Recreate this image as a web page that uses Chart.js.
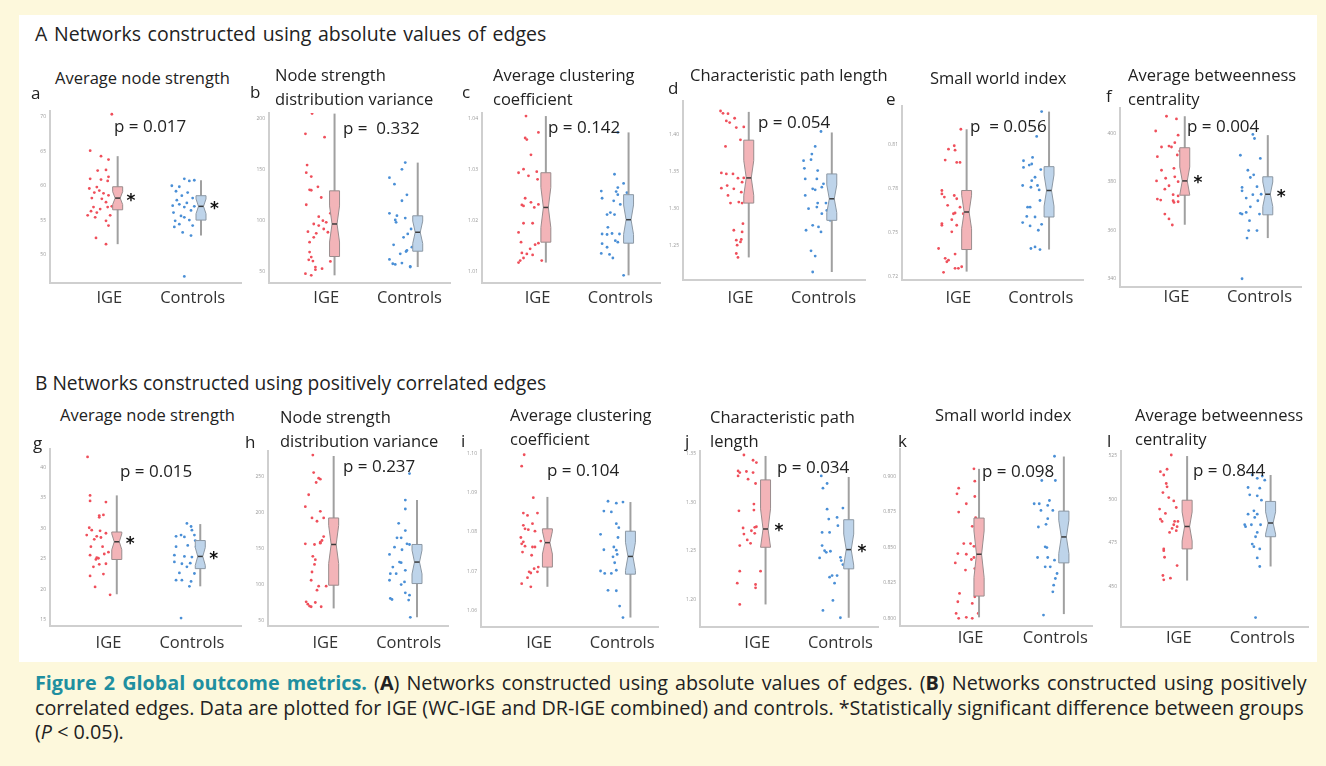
<!DOCTYPE html>
<html>
<head>
<meta charset="utf-8">
<script src="https://cdn.jsdelivr.net/npm/chart.js@4.4.1/dist/chart.umd.min.js"></script>
<style>
  body { margin:0; width:1326px; height:766px; background:#fdf8dc; position:relative; overflow:hidden;
         font-family:'Open Sans', sans-serif; color:#222; }
  #sheet { position:absolute; left:19px; top:15px; width:1298px; height:647px; background:#fff; }
  .t { position:absolute; white-space:nowrap; line-height:24px; }
  canvas { position:absolute; }
  #caption { position:absolute; left:35px; top:671px; font-size:19.75px; line-height:24.5px; white-space:nowrap; color:#222; }
  #caption .l1 { word-spacing:2px; }
  #caption .lead { color:#1f8fa0; font-weight:bold; }
</style>
</head>
<body>
<div id="sheet"></div>
<div id="caption"><span class="l1"><span class="lead">Figure 2 Global outcome metrics.</span> (<b>A</b>) Networks constructed using absolute values of edges. (<b>B</b>) Networks constructed using positively</span><br>correlated edges. Data are plotted for IGE (WC-IGE and DR-IGE combined) and controls. *Statistically significant difference between groups<br>(<i>P</i> &lt; 0.05).</div>
<script>
// ---- labels ----
const groups = ["IGE", "Controls"];
const rowHeadings = ["A Networks constructed using absolute values of edges",
                     "B Networks constructed using positively correlated edges"];
const panelIds = ["a", "b", "c", "d", "e", "f", "g", "h", "i", "j", "k", "l"];
const titles = ["Average node strength", "Node strength\ndistribution variance", "Average clustering\ncoefficient",
                "Characteristic path length", "Small world index", "Average betweenness\ncentrality",
                "Average node strength", "Node strength\ndistribution variance", "Average clustering\ncoefficient",
                "Characteristic path\nlength", "Small world index", "Average betweenness\ncentrality"];
const pValues = ["p = 0.017", "p =  0.332", "p = 0.142", "p = 0.054", "p  = 0.056", "p = 0.004",
                 "p = 0.015", "p = 0.237", "p = 0.104", "p = 0.034", "p = 0.098", "p = 0.844"];
const starred = ["a", "f", "g", "j"];

// ---- values (jitter offsets J from the group position, Y values, box = [low, q1, median, q3, high]) ----
const aTicks = [50, 55, 60, 65, 70];
const aIgeY = [70.4,65.1,64.3,63.8,62.2,62.3,61.3,61.0,60.9,60.7,59.6,59.8,59.3,59.0,58.9,58.6,58.2,58.1,57.6,56.9,56.6,56.3,56.1,56.9,57.0,55.7,55.4,55.7,54.9,54.2,52.4,51.5];
const aIgeJ = [0.03,-0.23,-0.10,-0.01,-0.14,-0.04,-0.01,-0.23,-0.10,-0.02,-0.24,-0.15,-0.12,-0.18,-0.07,-0.01,-0.21,-0.09,-0.04,-0.19,-0.11,-0.22,-0.15,-0.02,0.03,-0.26,-0.17,0.01,-0.04,-0.01,-0.16,-0.04];
const aCtlY = [61.0,60.8,60.0,59.85,59.2,59.0,58.55,57.1,57.3,58.2,57.0,56.9,56.4,56.1,55.4,55.0,54.4,54.0,54.2,53.2,52.75,46.8,57.9,57.5,55.6,54.9,60.7];
const aCtlJ = [-0.10,0.02,-0.25,-0.16,-0.20,-0.06,-0.13,-0.24,-0.16,0.00,0.02,-0.10,-0.02,-0.23,-0.10,-0.04,-0.16,-0.22,0.00,-0.12,-0.02,-0.10,-0.19,-0.07,-0.14,-0.21,-0.04];
const aIgeBox = [51.5, 56.5, 58.2, 59.85, 64.3];
const aCtlBox = [52.75, 55.0, 57.0, 58.55, 60.8];

const bTicks = [50, 100, 150, 200];
const bIgeY = [204.9,185.1,181.9,154.6,147.2,143.3,130.4,130.0,133.3,115.8,122.9,107.4,104.1,100.2,98.6,97.0,95.4,92.1,89.5,88.9,87.9,84.0,79.2,69.5,64.6,62.0,60.7,60.4,53.3,52.3,54.9,48.4,46.8];
const bIgeJ = [-0.17,-0.25,-0.02,-0.23,-0.24,-0.18,-0.20,-0.18,-0.10,-0.24,-0.06,0.05,-0.09,-0.04,0.00,-0.15,-0.09,-0.03,-0.22,0.02,-0.12,-0.15,-0.20,-0.20,-0.18,-0.21,-0.16,0.05,-0.05,-0.13,-0.13,-0.25,-0.18];
const bCtlY = [157.0,150.4,142.3,135.9,125.5,119.7,107.4,105.1,102.8,100.9,98.6,92.1,87.3,84.0,76.6,74.3,67.8,71.1,70.1,62.3,58.1,57.5,58.8,55.5,54.9];
const bCtlJ = [-0.05,-0.09,-0.24,-0.18,-0.03,-0.09,-0.24,-0.15,-0.05,-0.17,-0.16,0.02,-0.02,-0.07,-0.19,0.03,-0.11,-0.03,-0.04,-0.24,-0.20,-0.17,-0.09,0.01,0.01];
const bIgeBox = [46.8, 65.2, 97.0, 129.4, 204.9];
const bCtlBox = [54.9, 70.4, 88.9, 105.0, 157.0];

const cTicks = [1.01, 1.02, 1.03, 1.04];
const cIgeY = [1.0405,1.0373,1.0362,1.0359,1.0329,1.0294,1.0301,1.0296,1.0288,1.0281,1.0244,1.0231,1.0229,1.0236,1.0226,1.0232,1.0195,1.0195,1.0177,1.0158,1.0153,1.0156,1.0145,1.0137,1.0135,1.0133,1.0127,1.0122,1.0118,1.0122];
const cIgeJ = [-0.14,0.01,-0.15,-0.13,-0.08,-0.23,-0.17,-0.01,-0.11,0.00,-0.15,-0.19,-0.17,-0.08,-0.04,0.01,-0.17,-0.06,-0.23,-0.20,-0.03,0.01,-0.09,-0.19,-0.13,-0.06,-0.17,-0.21,-0.23,0.05];
const cCtlY = [1.0373,1.0291,1.0273,1.0265,1.0257,1.0258,1.0255,1.0244,1.0251,1.0239,1.0232,1.0216,1.0212,1.0212,1.0187,1.0174,1.0174,1.0175,1.0173,1.0161,1.0155,1.0148,1.0158,1.0136,1.0134,1.0127,1.0093];
const cCtlJ = [-0.03,-0.07,0.04,-0.03,-0.05,-0.23,0.08,-0.22,-0.03,-0.08,0.00,-0.12,-0.16,-0.07,-0.15,-0.22,-0.01,-0.10,-0.16,-0.06,-0.22,-0.16,-0.03,-0.23,-0.13,-0.09,0.04];
const cIgeBox = [1.0118, 1.0158, 1.0226, 1.0294, 1.0405];
const cCtlBox = [1.0093, 1.0156, 1.0202, 1.0251, 1.0373];

const dTicks = [1.25, 1.30, 1.35, 1.40];
const dIgeY = [1.4322,1.4291,1.4286,1.4188,1.4166,1.4224,1.4098,1.4107,1.3933,1.3843,1.3485,1.3472,1.3472,1.3414,1.3418,1.3360,1.3279,1.3315,1.3270,1.3181,1.3226,1.3078,1.3091,1.3078,1.2800,1.2711,1.2688,1.2577,1.2586,1.2554,1.2509,1.2397,1.2344];
const dIgeJ = [-0.24,-0.21,-0.15,-0.17,-0.13,-0.07,-0.05,0.04,0.00,-0.18,-0.23,-0.17,-0.09,-0.03,0.04,0.02,-0.23,-0.16,-0.08,-0.15,0.01,-0.12,-0.02,0.02,0.03,-0.08,0.02,-0.05,0.01,0.00,-0.04,-0.05,-0.03];
const dCtlY = [1.4045,1.3843,1.3740,1.3651,1.3664,1.3548,1.3517,1.3405,1.3405,1.3270,1.3257,1.3338,1.3293,1.3181,1.3078,1.3078,1.3024,1.2979,1.3002,1.2935,1.2845,1.2778,1.2711,1.2688,1.2756,1.2433,1.2362,1.2147];
const dCtlJ = [-0.03,-0.10,-0.14,-0.24,-0.15,-0.23,-0.07,-0.22,-0.08,-0.13,-0.10,0.00,-0.02,-0.22,-0.07,0.03,-0.08,0.04,-0.18,-0.02,0.08,-0.13,-0.21,-0.03,-0.06,-0.15,-0.10,-0.13];
const dIgeBox = [1.2344, 1.3078, 1.3418, 1.3928, 1.4310];
const dCtlBox = [1.2147, 1.2845, 1.3136, 1.3472, 1.4032];

const eTicks = [0.72, 0.75, 0.78, 0.81];
const eIgeY = [0.8201,0.8066,0.8089,0.8059,0.7992,0.7976,0.7976,0.7785,0.7762,0.7740,0.7751,0.7684,0.7729,0.7672,0.7627,0.7632,0.7627,0.7587,0.7560,0.7549,0.7549,0.7504,0.7391,0.7324,0.7312,0.7353,0.7301,0.7256,0.7256,0.7267,0.7229];
const eIgeJ = [0.03,-0.12,-0.05,-0.04,-0.16,-0.02,0.02,-0.20,-0.20,-0.17,-0.05,-0.13,-0.02,0.02,-0.06,-0.04,0.06,-0.08,-0.20,-0.20,-0.02,-0.08,-0.24,-0.16,-0.12,-0.04,-0.14,-0.04,0.00,0.04,-0.18];
const eCtlY = [0.8321,0.8152,0.7987,0.7958,0.7965,0.8010,0.7942,0.7927,0.7875,0.7819,0.7819,0.7807,0.7852,0.7789,0.7672,0.7672,0.7717,0.7609,0.7605,0.7567,0.7544,0.7555,0.7515,0.7402,0.7391,0.7384];
const eCtlJ = [0.01,-0.05,-0.21,-0.14,-0.11,-0.10,-0.21,0.00,-0.07,-0.22,-0.04,-0.12,-0.11,-0.02,-0.16,-0.13,-0.01,-0.17,-0.07,-0.22,-0.13,0.01,-0.03,-0.07,-0.12,-0.01];
const eIgeBox = [0.7234, 0.7384, 0.7639, 0.7785, 0.8201];
const eCtlBox = [0.7384, 0.7605, 0.7785, 0.7947, 0.8321];

const fTicks = [340, 360, 380, 400];
const fIgeY = [407.1,406.0,401.0,399.3,396.2,394.8,394.4,394.4,392.7,390.4,391.1,384.8,385.6,380.4,381.5,382.1,380.1,377.0,378.4,374.7,372.9,372.5,374.2,372.2,371.5,371.8,366.7,364.7,362.2];
const fIgeJ = [-0.12,0.00,-0.25,0.02,-0.02,-0.09,-0.06,-0.18,0.04,-0.23,0.01,-0.18,-0.03,-0.24,-0.13,-0.02,0.02,-0.14,-0.09,-0.04,-0.23,-0.19,0.02,-0.04,-0.03,0.02,-0.14,-0.09,-0.05];
const fCtlY = [399.6,397.9,391.0,389.7,384.8,382.9,381.8,377.7,376.3,378.0,374.7,374.9,373.3,372.2,369.7,366.7,367.0,367.4,366.7,364.0,359.9,359.9,356.8,340.0];
const fCtlJ = [-0.08,-0.06,-0.23,0.01,-0.14,-0.07,-0.11,-0.21,-0.21,-0.03,-0.08,0.02,-0.16,-0.02,-0.11,-0.21,-0.23,-0.16,0.00,-0.12,-0.13,-0.03,-0.15,-0.21];
const fIgeBox = [362.3, 374.5, 380.4, 394.1, 407.1];
const fCtlBox = [356.8, 366.4, 374.9, 382.1, 399.3];

const gTicks = [15, 20, 25, 30, 35, 40];
const gIgeY = [41.7,35.4,34.5,34.3,32.1,32.2,31.8,30.1,29.7,29.6,29.2,28.7,28.9,28.5,28.2,27.0,27.0,26.1,25.6,25.2,25.1,24.9,25.8,24.1,23.7,24.2,22.2,22.5,20.4,19.1];
const gIgeJ = [-0.25,-0.22,-0.22,-0.03,-0.11,-0.06,-0.11,-0.23,-0.20,-0.10,-0.03,-0.14,-0.26,-0.09,-0.17,-0.21,-0.07,0.00,-0.22,-0.14,-0.12,-0.15,-0.05,-0.11,-0.18,-0.03,-0.22,-0.06,-0.16,0.02];
const gCtlY = [30.8,30.3,28.7,28.9,28.6,29.7,28.9,28.0,27.0,27.2,27.0,25.6,25.4,25.3,24.5,24.2,23.7,24.3,21.5,21.5,21.3,20.5,22.7,22.6,15.3];
const gCtlJ = [-0.06,-0.01,-0.19,-0.13,-0.09,0.00,0.03,0.04,0.05,-0.05,-0.19,-0.21,-0.09,0.00,-0.21,-0.12,-0.06,-0.02,-0.19,-0.12,-0.01,-0.03,-0.15,0.03,-0.13];
const gIgeBox = [19.2, 24.9, 27.8, 29.4, 35.4];
const gCtlBox = [20.5, 23.4, 25.4, 28.0, 30.7];

const hTicks = [50, 100, 150, 200, 250];
const hIgeY = [280.3,256.0,248.2,242.2,246.8,225.2,208.6,202.2,193.0,188.4,193.0,167.2,161.7,158.0,157.1,156.2,159.4,139.7,135.1,128.6,118.0,106.6,98.3,98.3,92.8,76.7,73.4,70.7,69.8,75.7,69.8];
const hIgeJ = [-0.15,-0.14,-0.08,-0.11,-0.06,-0.20,-0.24,-0.06,-0.16,-0.10,-0.02,-0.02,-0.04,-0.06,-0.24,-0.13,-0.06,-0.15,-0.12,-0.13,-0.16,-0.17,-0.08,0.01,-0.10,-0.23,-0.21,-0.19,-0.17,-0.12,-0.05];
const hCtlY = [254.6,217.8,205.4,185.6,175.5,165.4,165.4,157.1,156.2,152.5,148.9,142.4,131.8,130.9,124.9,115.7,120.3,115.7,106.6,104.3,100.6,81.3,79.9,89.1,79.0,85.9,55.1];
const hCtlJ = [0.01,-0.04,-0.04,-0.12,-0.04,-0.09,-0.14,-0.02,0.01,-0.17,-0.08,-0.23,-0.11,-0.09,-0.19,-0.22,-0.04,-0.15,-0.23,-0.05,-0.09,-0.22,-0.20,-0.04,0.00,0.01,0.02];
const hIgeBox = [67.5, 99.7, 156.2, 193.0, 279.0];
const hCtlBox = [55.1, 102.0, 131.8, 156.2, 217.8];

const iTicks = [1.06, 1.07, 1.08, 1.09, 1.10];
const iIgeY = [1.0996,1.0967,1.0887,1.0848,1.0842,1.0848,1.0817,1.0808,1.0821,1.0806,1.0802,1.0786,1.0775,1.0770,1.0762,1.0762,1.0777,1.0764,1.0749,1.0741,1.0707,1.0711,1.0699,1.0696,1.0684,1.0699,1.0669,1.0661];
const iIgeJ = [-0.18,-0.21,-0.07,-0.19,-0.14,-0.02,-0.19,-0.17,-0.08,-0.13,-0.05,-0.22,-0.19,-0.21,-0.08,-0.05,0.02,-0.17,-0.20,-0.09,-0.06,-0.01,-0.12,-0.10,-0.14,-0.02,-0.21,-0.10];
const iCtlY = [1.0878,1.0876,1.0873,1.0853,1.0851,1.0821,1.0811,1.0794,1.0786,1.0762,1.0755,1.0754,1.0743,1.0737,1.0722,1.0701,1.0695,1.0695,1.0703,1.0652,1.0651,1.0612,1.0583];
const iCtlJ = [-0.17,0.01,-0.07,-0.22,-0.13,-0.07,-0.04,-0.26,-0.05,-0.10,-0.22,-0.07,-0.06,-0.11,-0.09,-0.26,-0.21,-0.13,-0.07,-0.17,-0.07,-0.03,0.01];
const iIgeBox = [1.0661, 1.0711, 1.0773, 1.0808, 1.0889];
const iCtlBox = [1.0583, 1.0693, 1.0738, 1.0802, 1.0876];

const jTicks = [1.20, 1.25, 1.30, 1.35];
const jIgeY = [1.3486,1.3432,1.3408,1.3322,1.3305,1.3316,1.3305,1.3271,1.3237,1.3193,1.2912,1.2981,1.2919,1.2735,1.2742,1.2748,1.2707,1.2673,1.2680,1.2612,1.2578,1.2554,1.2291,1.2291,1.2168,1.2154,1.2120,1.1949];
const jIgeJ = [-0.16,-0.05,-0.01,-0.23,-0.21,-0.13,-0.05,-0.23,-0.11,-0.02,-0.22,-0.04,-0.04,-0.17,-0.03,-0.01,-0.07,-0.16,-0.03,-0.12,-0.08,-0.21,-0.21,0.04,-0.24,-0.02,-0.02,-0.21];
const jCtlY = [1.3271,1.3145,1.3193,1.2929,1.2940,1.2827,1.2844,1.2690,1.2690,1.2759,1.2554,1.2502,1.2496,1.2427,1.2485,1.2434,1.2400,1.2359,1.2246,1.2246,1.2229,1.2168,1.1990,1.1887,1.1812];
const jCtlJ = [-0.23,-0.21,-0.16,-0.16,0.03,-0.14,-0.04,-0.22,-0.13,-0.03,-0.22,-0.19,-0.12,-0.25,-0.17,0.00,0.01,0.03,-0.10,-0.04,-0.13,-0.07,-0.09,-0.21,0.00];
const jIgeBox = [1.1949, 1.2537, 1.2725, 1.3230, 1.3476];
const jCtlBox = [1.1812, 1.2315, 1.2513, 1.2820, 1.3260];

const kTicks = [0.800, 0.825, 0.850, 0.875, 0.900];
const kIgeY = [0.9054,0.8918,0.8878,0.8967,0.8859,0.8808,0.8749,0.8710,0.8649,0.8527,0.8527,0.8508,0.8457,0.8452,0.8415,0.8429,0.8391,0.8340,0.8351,0.8176,0.8152,0.8117,0.8105,0.8035,0.8035,0.8000,0.8007,0.8000];
const kIgeJ = [0.04,-0.14,-0.16,0.05,0.05,-0.05,-0.14,0.06,0.02,-0.08,0.00,0.04,-0.15,-0.05,0.01,0.04,-0.18,-0.06,0.05,-0.13,0.05,-0.15,0.02,-0.17,0.09,-0.14,-0.05,0.02];
const kCtlY = [0.9143,0.8972,0.8972,0.8808,0.8808,0.8831,0.8796,0.8761,0.8761,0.8703,0.8644,0.8663,0.8504,0.8499,0.8429,0.8429,0.8363,0.8363,0.8410,0.8316,0.8281,0.8234,0.8187,0.8023];
const kCtlJ = [-0.01,-0.16,0.00,-0.25,-0.19,-0.07,-0.09,-0.17,-0.03,-0.09,-0.20,-0.11,-0.12,-0.10,-0.21,-0.09,-0.12,-0.06,-0.01,0.02,0.00,-0.02,-0.03,-0.14];
const kIgeBox = [0.8007, 0.8157, 0.8452, 0.8707, 0.9054];
const kCtlBox = [0.8030, 0.8391, 0.8574, 0.8756, 0.9141];

const lTicks = [450, 475, 500, 525];
const lIgeY = [525.6,516.0,517.4,514.1,509.2,507.3,504.0,501.1,499.2,495.4,494.5,492.0,488.7,487.4,487.4,487.4,485.5,484.4,483.4,482.1,481.1,471.6,470.6,466.8,462.0,456.3,454.8,453.8];
const lIgeJ = [-0.09,-0.22,-0.14,-0.18,-0.15,-0.14,-0.19,-0.12,-0.06,-0.03,-0.23,-0.16,-0.22,-0.20,-0.05,-0.01,-0.06,-0.02,-0.08,-0.03,-0.11,-0.18,-0.18,-0.17,-0.02,-0.19,-0.10,-0.18];
const lCtlY = [514.1,513.5,512.2,511.1,506.9,506.5,502.7,502.1,499.6,493.5,491.6,491.6,489.7,485.5,485.5,485.5,484.4,481.1,478.6,474.4,472.9,471.6,466.4,461.5,432.1];
const lCtlJ = [-0.12,0.00,-0.06,0.03,-0.17,-0.03,-0.15,-0.06,-0.01,-0.10,-0.06,-0.17,-0.09,-0.21,-0.13,-0.02,-0.20,-0.06,-0.08,-0.12,-0.10,-0.03,-0.06,-0.03,-0.08];
const lIgeBox = [453.4, 471.6, 484.5, 499.6, 525.0];
const lCtlBox = [461.5, 478.6, 486.5, 498.9, 514.1];

// lookup table built from the arrays above
const panelData = {
  a: { ticks: aTicks, pts: [[aIgeJ, aIgeY], [aCtlJ, aCtlY]], box: [aIgeBox, aCtlBox] },
  b: { ticks: bTicks, pts: [[bIgeJ, bIgeY], [bCtlJ, bCtlY]], box: [bIgeBox, bCtlBox] },
  c: { ticks: cTicks, pts: [[cIgeJ, cIgeY], [cCtlJ, cCtlY]], box: [cIgeBox, cCtlBox] },
  d: { ticks: dTicks, pts: [[dIgeJ, dIgeY], [dCtlJ, dCtlY]], box: [dIgeBox, dCtlBox] },
  e: { ticks: eTicks, pts: [[eIgeJ, eIgeY], [eCtlJ, eCtlY]], box: [eIgeBox, eCtlBox] },
  f: { ticks: fTicks, pts: [[fIgeJ, fIgeY], [fCtlJ, fCtlY]], box: [fIgeBox, fCtlBox] },
  g: { ticks: gTicks, pts: [[gIgeJ, gIgeY], [gCtlJ, gCtlY]], box: [gIgeBox, gCtlBox] },
  h: { ticks: hTicks, pts: [[hIgeJ, hIgeY], [hCtlJ, hCtlY]], box: [hIgeBox, hCtlBox] },
  i: { ticks: iTicks, pts: [[iIgeJ, iIgeY], [iCtlJ, iCtlY]], box: [iIgeBox, iCtlBox] },
  j: { ticks: jTicks, pts: [[jIgeJ, jIgeY], [jCtlJ, jCtlY]], box: [jIgeBox, jCtlBox] },
  k: { ticks: kTicks, pts: [[kIgeJ, kIgeY], [kCtlJ, kCtlY]], box: [kIgeBox, kCtlBox] },
  l: { ticks: lTicks, pts: [[lIgeJ, lIgeY], [lCtlJ, lCtlY]], box: [lIgeBox, lCtlBox] }
};

// ---- layout (page pixels) and axis ranges ----
const layout = {
  a: { ax: 49.7, right: 241.3, top: 110, bottom: 282.7, xr: [0.288, 2.58], yr: [45.85, 70.87], dec: 0, labelDy: 15.6, title: [55, 78], letter: [31, 93], p: [114, 126] },
  b: { ax: 269, right: 449.7, top: 111.7, bottom: 282.7, xr: [0.312, 2.488], yr: [39.3, 205.5], dec: 0, labelDy: 15.6, title: [275, 75], letter: [250, 92], p: [343, 128] },
  c: { ax: 481.7, right: 660, top: 111.7, bottom: 282.7, xr: [0.328, 2.48], yr: [1.0078, 1.0411], dec: 2, labelDy: 15.6, title: [493, 75], letter: [462, 92], p: [548, 127] },
  d: { ax: 683, right: 864.7, top: 100, bottom: 280, xr: [0.308, 2.5], yr: [1.2039, 1.4457], dec: 2, labelDy: 18.3, title: [690, 75], letter: [668, 88], p: [758, 122] },
  e: { ax: 901.7, right: 1083.3, top: 105, bottom: 280, xr: [0.316, 2.512], yr: [0.7177, 0.8359], dec: 2, labelDy: 18.3, title: [930, 78], letter: [886, 99], p: [970, 126] },
  f: { ax: 1119.7, right: 1301.3, top: 106.7, bottom: 286.7, xr: [0.32, 2.5], yr: [336.6, 410.5], dec: 0, labelDy: 10, title: [1128, 75], letter: [1106, 96], p: [1187, 126] },
  g: { ax: 49.7, right: 241.3, top: 448.3, bottom: 626, xr: [0.30, 2.588], yr: [14.0, 43.0], dec: 0, labelDy: 17, title: [60, 415], letter: [33, 443], p: [120, 471] },
  h: { ax: 268, right: 448, top: 450, bottom: 626, xr: [0.312, 2.472], yr: [43.1, 285.9], dec: 0, labelDy: 17.3, title: [280, 417], letter: [245, 442], p: [343, 466] },
  i: { ax: 481, right: 658.3, top: 449.3, bottom: 626.7, xr: [0.30, 2.432], yr: [1.0559, 1.1008], dec: 2, labelDy: 16.7, title: [510, 415], letter: [461, 441], p: [547, 470] },
  j: { ax: 699.7, right: 878, top: 450, bottom: 626.7, xr: [0.312, 2.452], yr: [1.1717, 1.3527], dec: 2, labelDy: 16, title: [710, 417], letter: [685, 441], p: [777, 467] },
  k: { ax: 900, right: 1091.7, top: 448.3, bottom: 626, xr: [0.168, 2.432], yr: [0.7946, 0.9194], dec: 3, labelDy: 12.3, title: [935, 415], letter: [898, 441], p: [982, 471] },
  l: { ax: 1121.3, right: 1308, top: 450, bottom: 626.7, xr: [0.308, 2.548], yr: [426.7, 527.9], dec: 0, labelDy: 11.7, title: [1135, 415], letter: [1107, 441], p: [1193, 470] }
};

const pointColors = ["#ef4f5b", "#4a8fd6"];
const boxFill = ["#f3b4b8", "#bed4ea"];
const boxLine = ["#9a8c8d", "#8c98a4"];
const BOX_SHIFT = 0.1, BOX_W = 0.12;

Chart.defaults.font.family = "'Open Sans', sans-serif";

function addText(txt, x, cy, size, extra) {
  const d = document.createElement("div");
  d.className = "t";
  d.style.left = x + "px";
  d.style.top = (cy - 12) + "px";
  d.style.fontSize = size + "px";
  if (extra) Object.assign(d.style, extra);
  d.innerHTML = txt.replace(/ {2}/g, " &nbsp;").replace(/\n/g, "<br>");
  document.body.appendChild(d);
}

// notched boxes, whiskers and asterisks drawn through the chart's own scales
const notchBox = {
  id: "notchBox",
  afterDatasetsDraw(chart, args, opts) {
    const { ctx } = chart;
    const x = chart.scales.x, y = chart.scales.y;
    opts.boxes.forEach((b, g) => {
      const [lo, q1, med, q3, hi] = b;
      const pos = g + 1 + BOX_SHIFT;
      const cx = x.getPixelForValue(pos);
      const half = x.getPixelForValue(pos + BOX_W / 2) - cx;
      const nd = 1.58 * (q3 - q1) / Math.sqrt(opts.n[g]);
      const nu = Math.min(med + nd, q3), nl = Math.max(med - nd, q1);
      const l = cx - half, r = cx + half, ins = half / 2;
      const py = v => y.getPixelForValue(v);
      ctx.save();
      ctx.strokeStyle = "#a0a0a0";
      ctx.lineWidth = 2;
      ctx.beginPath();
      ctx.moveTo(cx, py(lo));
      ctx.lineTo(cx, py(hi));
      ctx.stroke();

      ctx.beginPath();
      ctx.moveTo(l, py(q3));
      ctx.lineTo(r, py(q3));
      ctx.lineTo(r, py(nu));
      ctx.lineTo(r - ins, py(med));
      ctx.lineTo(r, py(nl));
      ctx.lineTo(r, py(q1));
      ctx.lineTo(l, py(q1));
      ctx.lineTo(l, py(nl));
      ctx.lineTo(l + ins, py(med));
      ctx.lineTo(l, py(nu));
      ctx.closePath();
      ctx.fillStyle = boxFill[g];
      ctx.fill();
      ctx.strokeStyle = boxLine[g];
      ctx.lineWidth = 1;
      ctx.stroke();

      ctx.strokeStyle = "#3a3a3a";
      ctx.lineWidth = 1.5;
      ctx.beginPath();
      ctx.moveTo(l + ins, py(med));
      ctx.lineTo(r - ins, py(med));
      ctx.stroke();

      if (opts.star) {
        ctx.fillStyle = "#111";
        ctx.font = "bold 17px 'DejaVu Sans'";
        ctx.textAlign = "center";
        ctx.textBaseline = "middle";
        ctx.fillText("*", x.getPixelForValue(pos + 0.16), py(med) + 3);
      }
      ctx.restore();
    });
  }
};

function drawPanel(id, idx) {
  const L = layout[id], D = panelData[id];
  const yW = 24, padT = 6, padR = 6, xH = 34;
  const left = Math.round(L.ax - yW), top = Math.round(L.top - padT);
  const w = Math.round(L.right + padR) - left, h = Math.round(L.bottom + xH) - top;
  const cv = document.createElement("canvas");
  cv.width = w; cv.height = h;
  cv.style.left = left + "px"; cv.style.top = top + "px";
  cv.style.width = w + "px"; cv.style.height = h + "px";
  document.body.appendChild(cv);

  new Chart(cv.getContext("2d"), {
    type: "scatter",
    data: {
      datasets: D.pts.map((p, g) => ({
        label: groups[g],
        data: p[0].map((jit, i) => ({ x: g + 1 + jit, y: p[1][i] })),
        backgroundColor: pointColors[g],
        pointRadius: 1.4,
        pointBorderWidth: 0,
        pointHoverRadius: 1.4
      }))
    },
    options: {
      responsive: false,
      animation: false,
      events: [],
      layout: { padding: { top: padT, right: padR, left: 0, bottom: 0 } },
      plugins: {
        legend: { display: false },
        tooltip: { enabled: false },
        notchBox: { boxes: D.box, n: D.pts.map(p => p[1].length), star: starred.includes(id) }
      },
      scales: {
        x: {
          type: "linear", min: L.xr[0], max: L.xr[1],
          grid: { display: false, drawTicks: false },
          border: { color: "#cfcfcf", width: 2 },
          afterBuildTicks: s => { s.ticks = [{ value: 1 }, { value: 2 }]; },
          afterFit: s => { s.height = xH; },
          ticks: { autoSkip: false, maxRotation: 0, padding: L.labelDy - 10, color: "#333",
                   font: { size: 16.5 }, callback: v => groups[v - 1] }
        },
        y: {
          type: "linear", min: L.yr[0], max: L.yr[1],
          grid: { display: false, drawTicks: false },
          border: { color: "#cfcfcf", width: 2 },
          afterBuildTicks: s => { s.ticks = D.ticks.map(v => ({ value: v })); },
          afterFit: s => { s.width = yW; },
          ticks: { autoSkip: false, padding: 4, color: "#999", font: { size: 5 },
                   callback: v => Number(v).toFixed(L.dec) }
        }
      }
    },
    plugins: [notchBox]
  });

  addText(titles[idx], L.title[0], L.title[1], 16.5, { color: "#222" });
  addText(id, L.letter[0], L.letter[1], 17, { color: "#222" });
  addText(pValues[idx], L.p[0], L.p[1], 17, { color: "#222" });
}

addText(rowHeadings[0], 35, 34, 19.5, { color: "#222", wordSpacing: "1.6px" });
addText(rowHeadings[1], 35, 383, 19.2, { color: "#222" });
panelIds.forEach(drawPanel);
</script>
</body>
</html>
